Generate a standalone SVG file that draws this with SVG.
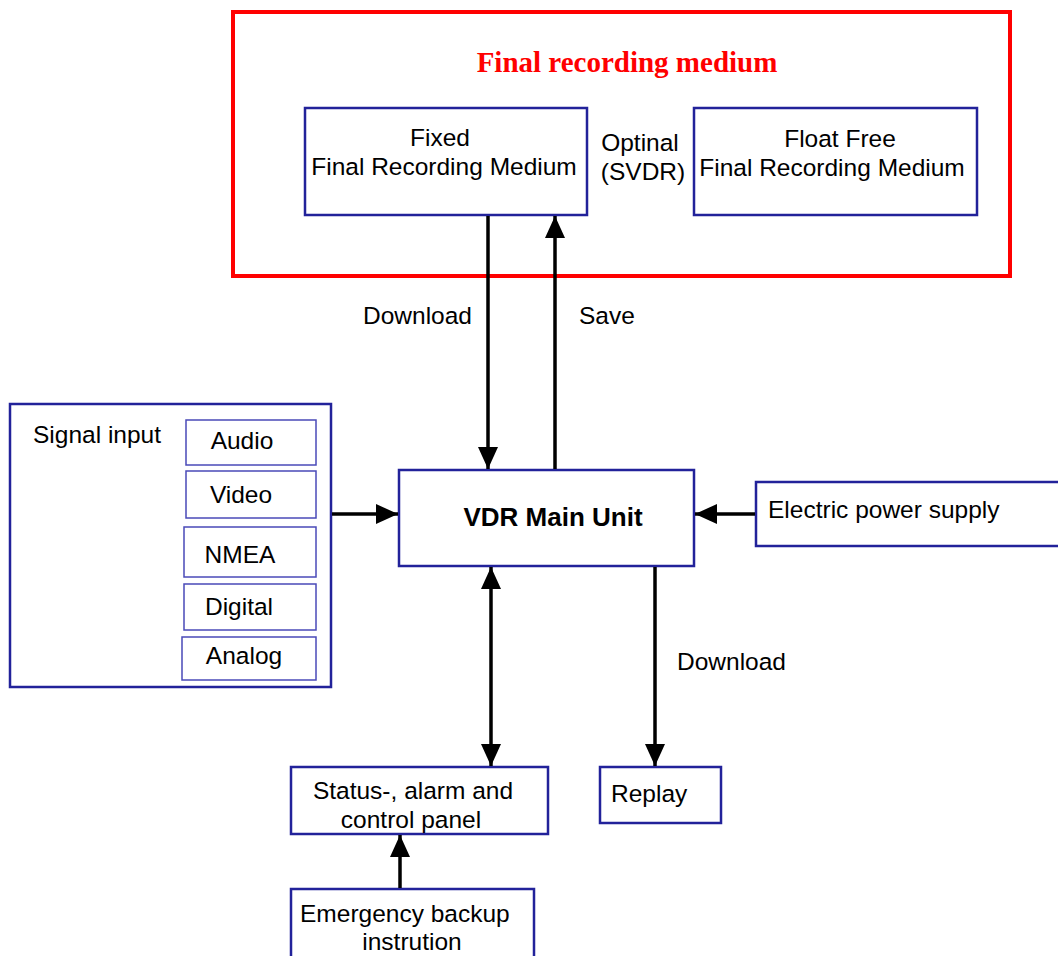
<svg xmlns="http://www.w3.org/2000/svg" width="1058" height="956" viewBox="0 0 1058 956">
<style>
.box{fill:#fff;stroke:#22229a;stroke-width:2.5}
.sub{fill:#fff;stroke:#4a4ab8;stroke-width:1.5}
.t{font-family:"Liberation Sans",Arial,sans-serif;font-size:24.5px;fill:#000}
.c{text-anchor:middle}
.b{font-weight:bold;font-size:26px}
.ln{stroke:#000;stroke-width:3.5;fill:none}
</style>
<defs>
<marker id="ah" markerUnits="userSpaceOnUse" markerWidth="22" markerHeight="22" refX="22" refY="10" orient="auto-start-reverse" viewBox="0 0 22 20">
<path d="M0,0 L22,10 L0,20 Z" fill="#000"/>
</marker>
</defs>
<rect width="1058" height="956" fill="#fff"/>
<g id="final-recording-medium">
<rect x="233" y="12" width="777" height="264" fill="none" stroke="#ff0000" stroke-width="4"/>
<text x="627" y="72" text-anchor="middle" font-family="'Liberation Serif','Times New Roman',serif" font-weight="bold" font-size="29" fill="#ff0000">Final recording medium</text>
</g>
<g id="fixed-medium">
<rect class="box" x="305" y="108" width="282" height="107"/>
<text class="t c" x="440" y="146">Fixed</text>
<text class="t c" x="444" y="175">Final Recording Medium</text>
</g>
<g id="optinal-label">
<text class="t c" x="640" y="151">Optinal</text>
<text class="t c" x="643" y="180">(SVDR)</text>
</g>
<g id="float-free-medium">
<rect class="box" x="694" y="108" width="283" height="107"/>
<text class="t c" x="840" y="147">Float Free</text>
<text class="t c" x="832" y="176">Final Recording Medium</text>
</g>
<g id="signal-input">
<rect class="box" x="10" y="404" width="321" height="283"/>
<text class="t" x="33" y="443">Signal input</text>
</g>
<g id="audio"><rect class="sub" x="186" y="420" width="130" height="45"/><text class="t c" x="242" y="449">Audio</text></g>
<g id="video"><rect class="sub" x="186" y="471" width="130" height="47"/><text class="t c" x="241" y="503">Video</text></g>
<g id="nmea"><rect class="sub" x="184" y="527" width="132" height="50"/><text class="t c" x="240" y="563">NMEA</text></g>
<g id="digital"><rect class="sub" x="184" y="584" width="132" height="46"/><text class="t c" x="239" y="615">Digital</text></g>
<g id="analog"><rect class="sub" x="182" y="637" width="134" height="43"/><text class="t c" x="244" y="664">Analog</text></g>
<g id="vdr-main-unit">
<rect class="box" x="399" y="470" width="295" height="96"/>
<text class="t c b" x="553" y="526">VDR Main Unit</text>
</g>
<g id="electric-power-supply">
<rect class="box" x="756" y="482" width="310" height="64"/>
<text class="t" x="768" y="518">Electric power supply</text>
</g>
<g id="status-panel">
<rect class="box" x="291" y="767" width="257" height="67"/>
<text class="t c" x="413" y="799">Status-, alarm and</text>
<text class="t c" x="411" y="828">control panel</text>
</g>
<g id="replay">
<rect class="box" x="600" y="767" width="121" height="56"/>
<text class="t" x="611" y="802">Replay</text>
</g>
<g id="emergency-backup">
<rect class="box" x="291" y="889" width="243" height="80"/>
<text class="t" x="300" y="922">Emergency backup</text>
<text class="t c" x="412" y="950">instrution</text>
</g>
<g id="connectors">
<line class="ln" x1="488" y1="216" x2="488" y2="469" marker-end="url(#ah)"/>
<line class="ln" x1="555" y1="469" x2="555" y2="216" marker-end="url(#ah)"/>
<text class="t" x="363" y="324">Download</text>
<text class="t" x="579" y="324">Save</text>
<line class="ln" x1="332" y1="514" x2="398" y2="514" marker-end="url(#ah)"/>
<line class="ln" x1="755" y1="514" x2="695" y2="514" marker-end="url(#ah)"/>
<line class="ln" x1="491" y1="567" x2="491" y2="766" marker-start="url(#ah)" marker-end="url(#ah)"/>
<line class="ln" x1="655" y1="567" x2="655" y2="766" marker-end="url(#ah)"/>
<text class="t" x="677" y="670">Download</text>
<line class="ln" x1="400" y1="888" x2="400" y2="835" marker-end="url(#ah)"/>
</g>
</svg>
